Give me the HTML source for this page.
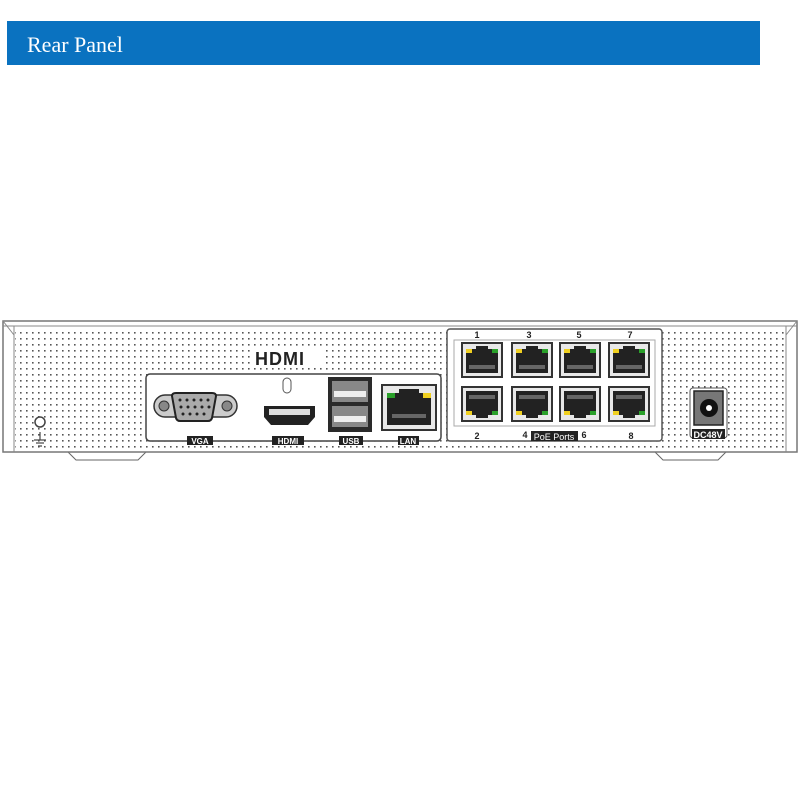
<!DOCTYPE html>
<html><head><meta charset="utf-8"><style>
html,body{margin:0;padding:0;background:#fff;width:800px;height:800px;overflow:hidden}
svg{display:block}
</style></head><body>
<svg width="800" height="800" viewBox="0 0 800 800" xmlns="http://www.w3.org/2000/svg" font-family="Liberation Sans, sans-serif">
<defs>
<pattern id="dots" x="0" y="0" width="6" height="6" patternUnits="userSpaceOnUse">
<rect x="2" y="2" width="1.6" height="1.6" fill="#555"/>
</pattern>
<g id="rj">
<rect x="0" y="0" width="40" height="34" fill="#e8e8e8" stroke="#333" stroke-width="2"/>
<path d="M4 6 H14 V3 H26 V6 H36 V30 H4 Z" fill="#222"/>
<rect x="4" y="6" width="6" height="4" fill="#f0d020"/>
<rect x="30" y="6" width="6" height="4" fill="#2aa02a"/>
<rect x="7" y="22" width="26" height="4" fill="#666"/>
</g>
<g id="rjd">
<rect x="0" y="0" width="40" height="34" fill="#e8e8e8" stroke="#333" stroke-width="2"/>
<path d="M4 4 H36 V28 H26 V31 H14 V28 H4 Z" fill="#222"/>
<rect x="4" y="24" width="6" height="4" fill="#f0d020"/>
<rect x="30" y="24" width="6" height="4" fill="#2aa02a"/>
<rect x="7" y="8" width="26" height="4" fill="#666"/>
</g>
</defs>
<rect x="7" y="21" width="753" height="44" fill="#0a72c0"/>
<text x="27" y="52" fill="#fff" font-family="Liberation Serif, serif" font-size="22">Rear Panel</text>

<!-- chassis -->
<path d="M68 452 L76 460 H138 L146 452 Z" fill="#fff" stroke="#666"/>
<path d="M655 452 L663 460 H718 L726 452 Z" fill="#fff" stroke="#666"/>
<rect x="3" y="321" width="794" height="131" fill="#fff" stroke="#777" stroke-width="1.5"/>
<rect x="15" y="330" width="772" height="120" fill="url(#dots)"/>
<line x1="3" y1="326" x2="797" y2="326" stroke="#888"/>
<line x1="14" y1="326" x2="14" y2="452" stroke="#888"/>
<line x1="786" y1="326" x2="786" y2="452" stroke="#888"/>
<line x1="3" y1="321" x2="14" y2="335" stroke="#888"/>
<line x1="797" y1="321" x2="786" y2="335" stroke="#888"/>

<!-- ground -->
<circle cx="40" cy="422" r="5" fill="#fff" stroke="#444" stroke-width="1.5"/>
<g stroke="#444" stroke-width="1.2"><line x1="40" y1="432" x2="40" y2="440"/><line x1="34" y1="440" x2="46" y2="440"/><line x1="36" y1="443" x2="44" y2="443"/><line x1="38" y1="446" x2="42" y2="446"/></g>

<rect x="250" y="348" width="76" height="20" fill="#fff"/>
<text x="255" y="365" font-size="18" font-weight="bold" fill="#222" letter-spacing="1">HDMI</text>

<rect x="146" y="374" width="295" height="67" rx="4" fill="#fff" stroke="#444" stroke-width="1.5"/>
<!-- VGA -->
<rect x="154" y="395" width="83" height="22" rx="11" fill="#ccc" stroke="#333" stroke-width="1.5"/>
<circle cx="164" cy="406" r="5" fill="#888" stroke="#333"/>
<circle cx="227" cy="406" r="5" fill="#888" stroke="#333"/>
<path d="M172 396 Q172 393 176 393 H212 Q216 393 216 396 L212 418 Q211 421 208 421 H180 Q177 421 176 418 Z" fill="#aaa" stroke="#222" stroke-width="2"/>
<g fill="#222"><circle cx="180" cy="400" r="1.5"/><circle cx="187" cy="400" r="1.5"/><circle cx="194" cy="400" r="1.5"/><circle cx="201" cy="400" r="1.5"/><circle cx="208" cy="400" r="1.5"/>
<circle cx="181" cy="407" r="1.5"/><circle cx="188" cy="407" r="1.5"/><circle cx="195" cy="407" r="1.5"/><circle cx="202" cy="407" r="1.5"/><circle cx="209" cy="407" r="1.5"/>
<circle cx="183" cy="414" r="1.5"/><circle cx="190" cy="414" r="1.5"/><circle cx="197" cy="414" r="1.5"/><circle cx="204" cy="414" r="1.5"/></g>
<rect x="187" y="436" width="26" height="9" fill="#222"/><text x="200" y="444" font-size="8" font-weight="bold" fill="#fff" text-anchor="middle">VGA</text>
<!-- HDMI -->
<rect x="283" y="378" width="8" height="15" rx="4" fill="#fff" stroke="#555"/>
<path d="M264 406 H315 V417 L308 425 H271 L264 417 Z" fill="#222"/>
<rect x="269" y="409" width="41" height="6" fill="#ddd"/>
<rect x="272" y="436" width="32" height="9" fill="#222"/><text x="288" y="444" font-size="8" font-weight="bold" fill="#fff" text-anchor="middle">HDMI</text>
<!-- USB -->
<rect x="328" y="377" width="44" height="55" fill="#2a2a2a"/>
<rect x="332" y="381" width="36" height="21" fill="#888"/><rect x="334" y="391" width="32" height="6" fill="#eee"/>
<rect x="332" y="406" width="36" height="21" fill="#888"/><rect x="334" y="416" width="32" height="6" fill="#eee"/>
<rect x="339" y="436" width="24" height="9" fill="#222"/><text x="351" y="444" font-size="8" font-weight="bold" fill="#fff" text-anchor="middle">USB</text>
<!-- LAN -->
<rect x="382" y="385" width="54" height="45" fill="#e8e8e8" stroke="#333" stroke-width="2"/>
<path d="M387 393 H399 V389 H419 V393 H431 V425 H387 Z" fill="#222"/>
<rect x="387" y="393" width="8" height="5" fill="#2aa02a"/><rect x="423" y="393" width="8" height="5" fill="#f0d020"/>
<rect x="392" y="414" width="34" height="4" fill="#666"/>
<rect x="398" y="436" width="21" height="9" fill="#222"/><text x="408" y="444" font-size="8" font-weight="bold" fill="#fff" text-anchor="middle">LAN</text>

<!-- PoE -->
<rect x="447" y="329" width="215" height="112" rx="3" fill="#fff" stroke="#555" stroke-width="1.5"/>
<rect x="454" y="340" width="201" height="86" fill="none" stroke="#aaa"/>
<use href="#rj" x="462" y="343"/><use href="#rj" x="512" y="343"/><use href="#rj" x="560" y="343"/><use href="#rj" x="609" y="343"/>
<use href="#rjd" x="462" y="387"/><use href="#rjd" x="512" y="387"/><use href="#rjd" x="560" y="387"/><use href="#rjd" x="609" y="387"/>
<g font-size="9" font-weight="bold" fill="#222" text-anchor="middle">
<text x="477" y="338">1</text><text x="529" y="338">3</text><text x="579" y="338">5</text><text x="630" y="338">7</text>
<text x="477" y="439">2</text><text x="525" y="438">4</text><text x="584" y="438">6</text><text x="631" y="439">8</text></g>
<rect x="531" y="431" width="47" height="10" fill="#222"/><text x="554" y="440" font-size="9" fill="#fff" text-anchor="middle">PoE Ports</text>

<!-- DC -->
<rect x="690" y="388" width="37" height="50" rx="3" fill="#fff" stroke="#555"/>
<rect x="694" y="391" width="29" height="34" fill="#777" stroke="#222" stroke-width="1.5"/>
<circle cx="709" cy="408" r="9" fill="#111"/><circle cx="709" cy="408" r="3" fill="#fff"/>
<rect x="692" y="429" width="33" height="10" fill="#222"/><text x="708" y="438" font-size="9" font-weight="bold" fill="#fff" text-anchor="middle">DC48V</text>
</svg>
</body></html>
